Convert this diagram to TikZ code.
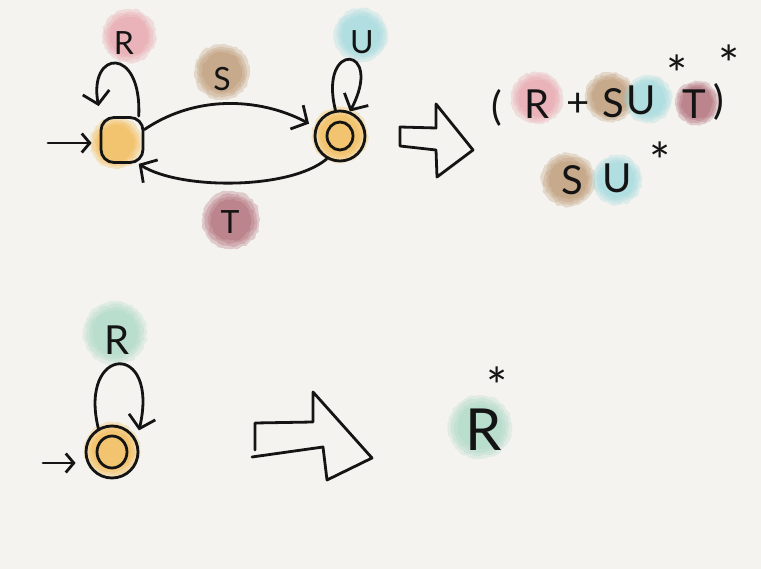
\documentclass[tikz,border=0pt]{standalone}
\usepackage{fontspec}
\setmainfont{Lato}
\usetikzlibrary{arrows.meta,decorations.pathmorphing}
\definecolor{paper}{HTML}{F4F3EF}
\definecolor{inkc}{HTML}{141414}
\definecolor{cpink}{HTML}{E79AA4}
\definecolor{cbrown}{HTML}{B68B63}
\definecolor{ccyan}{HTML}{96D6DC}
\definecolor{cwine}{HTML}{A65766}
\definecolor{corange}{HTML}{F3B23A}
\definecolor{cmint}{HTML}{A3D6C2}
% soft watercolour smudge: colour, centre, radius
\newcommand\smudge[3]{%
  \foreach \k in {1.0,0.9,0.8,0.7}
    \fill[#1, fill opacity=0.26,
          decorate, decoration={random steps, segment length=3pt, amplitude=1pt}]
      (#2) circle ({#3*\k});}
\begin{document}
\begin{tikzpicture}[x=1pt, y=-1pt, line width=2.8pt, line cap=round, line join=round,
  lbl/.style={inner sep=0pt, text=inkc, font=\fontsize{32}{32}\selectfont},
  big/.style={inner sep=0pt, text=inkc, font=\fontsize{40}{40}\selectfont},
  huge/.style={inner sep=0pt, text=inkc, font=\fontsize{58}{58}\selectfont},
  % box trimmed to the raised asterisk glyph, so the node centre is the glyph centre
  star/.style={inner sep=0pt, text=inkc, font=\fontsize{50}{50}\selectfont,
               text height=55pt, text depth=-35pt},
  tip/.style={-{Straight Barb[length=12pt, width=27pt]}},
  smalltip/.style={-{Straight Barb[length=8pt, width=19pt]}},
  stbox/.style={draw=inkc, rounded corners=13pt, minimum width=42pt, minimum height=45pt},
  stcirc/.style={draw=inkc, circle, minimum size=50pt, inner sep=0pt},
]
\fill[paper] (0,0) rectangle (761,569);
\useasboundingbox (0,0) rectangle (761,569);

% ---- smudges behind states and labels ----
\smudge{cpink}{129,36}{27}
\smudge{cbrown}{222,72}{28}
\smudge{ccyan}{361,35}{27}
\smudge{cwine}{231,220}{29}
\smudge{corange}{116,143}{26}
\smudge{corange}{340,135}{28}
\smudge{cpink}{537,98}{26}
\smudge{cbrown}{610,97}{25}
\smudge{ccyan}{648,99}{24}
\smudge{cwine}{697,103}{22}
\smudge{cbrown}{568,180}{27}
\smudge{ccyan}{617,180}{25}
\smudge{cmint}{115,333}{32}
\smudge{corange}{112,450}{28}
\smudge{cmint}{480,427}{32}

% ---- two-state automaton ----
\node[stbox] (q0) at (122,140) {};
\node[stcirc] (q1) at (340,136) {};
\draw[inkc] (q1.center) ellipse (13 and 14);
\coordinate (s0) at (48,143);

\draw[inkc, smalltip, shorten >=8pt] (s0) -- ([shift={(0,3)}]q0.west);
\draw[inkc, tip] (q0.55) .. controls (142,45) and (88,50) .. ([shift={(-1,-10)}]q0.north west);
\draw[inkc, tip] (q1.100) .. controls (318,40) and (385,45) .. (q1.68);
\draw[inkc, tip, shorten >=7pt] (q0.25) .. controls (200,92) and (265,100) .. (q1.160);
\draw[inkc, tip] (q1.-120) .. controls (290,190) and (180,190) .. (q0.-55);

\node[lbl] (lr) at (124,43) {R};
\node[lbl] (ls) at (222,79) {S};
\node[lbl] (lu) at (362,42) {U};
\node[lbl] (lt) at (230,222) {T};

% ---- outline arrow, top ----
\draw[inkc] (400,127) -- (436,128) -- (436,104) -- (473,150) -- (437,177) -- (436,150) -- (400,146) -- cycle;

% ---- resulting expressions ----
\node[big] (e1) at (497,108) {(};
\node[big] (e2) at (537,104) {R};
\node[big] (e3) at (578,105) {+};
\node[big] (e4) at (613,103) {S};
\node[big] (e5) at (641,100) {U};
\node[star] (e6) at (677,65) {*};
\node[big] (e7) at (694,104) {T};
\node[big] (e8) at (719,102) {)};
\node[star] (e9) at (729,55) {*};

\node[big] (f1) at (572,180) {S};
\node[big] (f2) at (617,178) {U};
\node[star] (f3) at (660,152) {*};

% ---- one-state automaton ----
\node[stcirc, minimum size=52pt] (q2) at (112,452) {};
\draw[inkc] (q2.center) ellipse (15 and 16);
\coordinate (s2) at (43,463);
\draw[inkc, smalltip] (s2) -- ([shift={(-9,11)}]q2.west);
\draw[inkc, tip] (q2.120) .. controls (78,345) and (160,340) .. ([shift={(6,-4)}]q2.40);
\node[big] (lr2) at (117,340) {R};

% ---- outline arrow, bottom ----
\draw[inkc] (255,450) -- (255,423) -- (313,422) -- (313,392) -- (372,458) -- (327,480) -- (323,447) -- (252,457);

\node[huge] (g1) at (484,430) {R};
\node[star] (g2) at (497,377) {*};
\end{tikzpicture}
\end{document}
